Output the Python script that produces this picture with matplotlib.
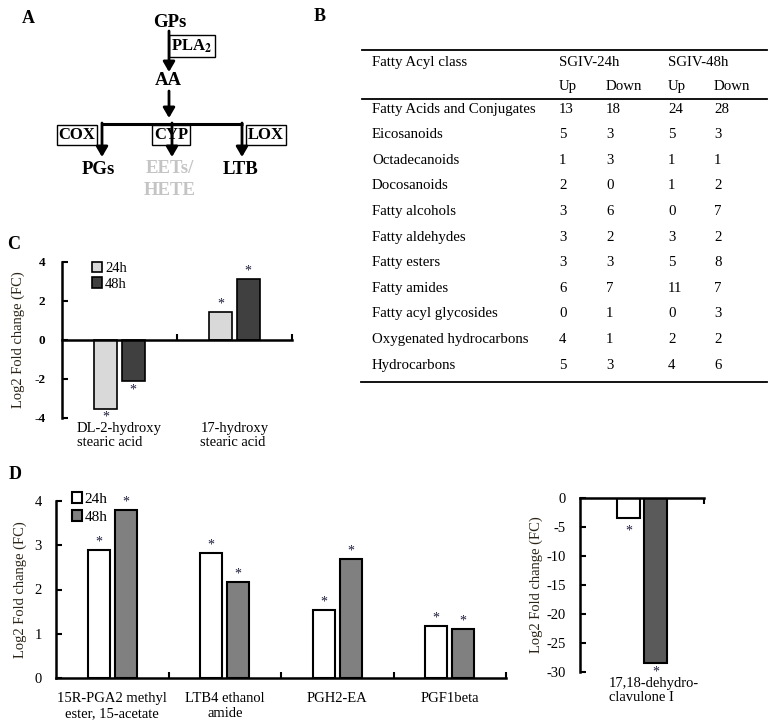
import matplotlib
matplotlib.use("Agg")
import matplotlib.pyplot as plt
from matplotlib.transforms import blended_transform_factory
import numpy as np

plt.rcParams['font.family'] = ['Liberation Serif', 'DejaVu Serif']
plt.rcParams['mathtext.fontset'] = 'stix'

# ---------------- data ----------------
table_classes = ["Fatty Acids and Conjugates", "Eicosanoids", "Octadecanoids", "Docosanoids",
                 "Fatty alcohols", "Fatty aldehydes", "Fatty esters", "Fatty amides",
                 "Fatty acyl glycosides", "Oxygenated hydrocarbons", "Hydrocarbons"]
up_24h = [13, 5, 1, 2, 3, 3, 3, 6, 0, 4, 5]
down_24h = [18, 3, 3, 0, 6, 2, 3, 7, 1, 1, 3]
up_48h = [24, 5, 1, 1, 0, 3, 5, 11, 0, 2, 4]
down_48h = [28, 3, 1, 2, 7, 2, 8, 7, 3, 2, 6]

c_categories = ["DL-2-hydroxy\nstearic acid", "17-hydroxy\nstearic acid"]
c_24h = [-3.55, 1.42]
c_48h = [-2.12, 3.12]
c_ticks = [-4, -2, 0, 2, 4]

d_categories = ["15R-PGA2 methyl\nester, 15-acetate", "LTB4 ethanol\namide", "PGH2-EA", "PGF1beta"]
d_24h = [2.89, 2.82, 1.54, 1.18]
d_48h = [3.79, 2.17, 2.69, 1.10]
d_ticks = [0, 1, 2, 3, 4]

r_categories = ["17,18-dehydro-\nclavulone I"]
r_24h = [-3.4]
r_48h = [-28.5]
r_ticks = [0, -5, -10, -15, -20, -25, -30]

series_labels = ["24h", "48h"]

W, H = 772, 725
fig = plt.figure(figsize=(W / 100, H / 100), dpi=100)

def px_axes(left, top, right, bottom):
    return fig.add_axes([left / W, 1 - bottom / H, (right - left) / W, (bottom - top) / H])

# ---------------- overlay for panels A and B ----------------
ov = fig.add_axes([0, 0, 1, 1])
ov.set_xlim(0, W)
ov.set_ylim(H, 0)
ov.axis('off')

for lab, (x, y) in zip("ABCD", [(28, 18), (320, 16), (14, 244), (15, 474)]):
    ov.text(x, y, lab, fontsize=13, fontweight='bold', ha='center', va='center')

# Panel A pathway
def arrow(x0, y0, x1, y1):
    ov.annotate("", xy=(x1, y1), xytext=(x0, y0),
                arrowprops=dict(arrowstyle='-|>,head_width=0.35,head_length=0.6',
                                color='black', lw=2, shrinkA=0, shrinkB=0))

afs = 13.5
ov.text(170, 22, "GPs", fontsize=afs, fontweight='bold', ha='center', va='center')
arrow(169, 31, 169, 72)
ov.text(192, 46, r"PLA$_\mathbf{2}$", fontsize=12, fontweight='bold', ha='center', va='center',
        bbox=dict(boxstyle='square,pad=0.12', fc='none', ec='black', lw=1))
ov.text(168, 80, "AA", fontsize=afs, fontweight='bold', ha='center', va='center')
arrow(169, 91, 169, 118)
ov.plot([101, 243], [124, 124], color='black', lw=2.2, solid_capstyle='butt')
for x in [102, 172, 242]:
    arrow(x, 123, x, 157)
for txt, x in [("COX", 77), ("CYP", 171), ("LOX", 266)]:
    ov.text(x, 135, txt, fontsize=12, fontweight='bold', ha='center', va='center',
            bbox=dict(boxstyle='square,pad=0.1', fc='none', ec='black', lw=1))
ov.text(98, 169, "PGs", fontsize=afs, fontweight='bold', ha='center', va='center')
ov.text(170, 168, "EETs/", fontsize=afs, fontweight='bold', ha='center', va='center', color='#c4c4c4')
ov.text(170, 190, "HETE", fontsize=afs, fontweight='bold', ha='center', va='center', color='#c4c4c4')
ov.text(241, 169, "LTB", fontsize=afs, fontweight='bold', ha='center', va='center')

# Panel B table
tfs = 10.75
ov.plot([362, 767], [50, 50], color='black', lw=1.3)
ov.plot([362, 767], [99, 99], color='black', lw=1.3)
ov.plot([361, 767], [382, 382], color='black', lw=1.3)
ov.text(372, 62, "Fatty Acyl class", fontsize=tfs, va='center')
ov.text(559, 62, "SGIV-24h", fontsize=tfs, va='center')
ov.text(668, 62, "SGIV-48h", fontsize=tfs, va='center')
col_x = [559, 606, 668, 714]
for x, t in zip(col_x, ["Up", "Down", "Up", "Down"]):
    ov.text(x, 86, t, fontsize=tfs, va='center')
for i, name in enumerate(table_classes):
    y = 109 + i * 25.6
    ov.text(372, y, name, fontsize=tfs, va='center')
    for x, vals in zip(col_x, [up_24h, down_24h, up_48h, down_48h]):
        ov.text(x, y, str(vals[i]), fontsize=tfs, va='center')

star_color = '#1c1c3c'

def style_axes(ax, pad):
    for s in ['top', 'right']:
        ax.spines[s].set_visible(False)
    for s in ['left', 'bottom']:
        ax.spines[s].set_linewidth(1.8)
    ax.tick_params(axis='y', direction='in', length=4, width=1.5, pad=pad)

def stars(ax, xs, vals, neg_off=-11, pos_off=1):
    for x, v in zip(xs, vals):
        off = pos_off if v >= 0 else neg_off
        ax.annotate("*", xy=(x, v), xytext=(0, off), textcoords='offset points',
                    ha='center', va='bottom', fontsize=10, color=star_color, annotation_clip=False)

# ---------------- Panel C ----------------
axc = px_axes(62, 262, 292, 418)
x = np.arange(len(c_categories))
bw, off = 0.2, 0.12
axc.bar(x - off, c_24h, bw, color='#d9d9d9', edgecolor='black', lw=1.2, label=series_labels[0])
axc.bar(x + off, c_48h, bw, color='#404040', edgecolor='black', lw=1.2, label=series_labels[1])
stars(axc, x - off, c_24h, neg_off=-10)
stars(axc, x + off, c_48h)
axc.set_xlim(-0.5, 1.5)
axc.set_ylim(-4, 4)
axc.set_yticks(c_ticks)
axc.set_yticklabels([str(t) for t in c_ticks], fontsize=9.5, fontweight='bold')
style_axes(axc, pad=12)
axc.spines['bottom'].set_position(('data', 0))
axc.set_xticks([0.5, 1.5])
axc.set_xticklabels([])
axc.tick_params(axis='x', direction='in', length=4, width=1.5)
axc.set_ylabel("Log2 Fold change (FC)", fontsize=10.5, color='#2b2416')
axc.yaxis.set_label_coords(-0.16, 0.5)
trc = blended_transform_factory(axc.transData, axc.transAxes)
for xi, lab in zip(x, c_categories):
    axc.text(xi, -0.025, lab, transform=trc, ha='center', va='top', fontsize=10.5,
             linespacing=1.1, multialignment='left')
axc.legend(loc='upper left', bbox_to_anchor=(0.13, 1.0), frameon=False, fontsize=10.5,
           handlelength=0.7, handleheight=0.7, handletextpad=0.2, labelspacing=0.15,
           borderaxespad=0, borderpad=0)

# ---------------- Panel D ----------------
axd = px_axes(56, 501, 506, 678)
x = np.arange(len(d_categories))
axd.bar(x - off, d_24h, 0.195, color='white', edgecolor='black', lw=1.5, label=series_labels[0])
axd.bar(x + off, d_48h, 0.195, color='#808080', edgecolor='black', lw=1.5, label=series_labels[1])
stars(axd, x - off, d_24h)
stars(axd, x + off, d_48h)
axd.set_xlim(-0.5, len(d_categories) - 0.5)
axd.set_ylim(0, 4)
axd.set_yticks(d_ticks)
axd.set_yticklabels([str(t) for t in d_ticks], fontsize=10.5)
style_axes(axd, pad=10)
axd.set_xticks(x)
axd.set_xticklabels(d_categories, fontsize=10.5, linespacing=1.2)
axd.tick_params(axis='x', which='major', length=0, pad=10)
axd.set_xticks(np.arange(len(d_categories)) + 0.5, minor=True)
axd.tick_params(axis='x', which='minor', direction='in', length=4, width=1.5)
axd.set_ylabel("Log2 Fold change (FC)", fontsize=10.5, color='#2b2416')
axd.yaxis.set_label_coords(-0.065, 0.5)
axd.legend(loc='upper left', bbox_to_anchor=(0.035, 1.05), frameon=False, fontsize=11,
           handlelength=0.7, handleheight=0.7, handletextpad=0.15, labelspacing=0.3,
           borderaxespad=0, borderpad=0)

# ---------------- Right panel ----------------
axr = px_axes(580, 498, 704, 672)
x = np.arange(len(r_categories))
axr.bar(x - 0.11, r_24h, 0.19, color='white', edgecolor='black', lw=1.5)
axr.bar(x + 0.11, r_48h, 0.19, color='#5a5a5a', edgecolor='black', lw=1.5)
stars(axr, x - 0.11, r_24h, neg_off=-14)
stars(axr, x + 0.11, r_48h, neg_off=-11)
axr.set_xlim(-0.5, 0.5)
axr.set_ylim(-30, 0)
axr.set_yticks(r_ticks)
axr.set_yticklabels([str(t) for t in r_ticks], fontsize=10.5)
style_axes(axr, pad=10)
axr.spines['bottom'].set_position(('data', 0))
axr.set_xticks([0.5])
axr.set_xticklabels([])
axr.tick_params(axis='x', direction='out', length=4, width=1.5)
axr.set_ylabel("Log2 Fold change (FC)", fontsize=10.5, color='#2b2416')
axr.yaxis.set_label_coords(-0.3, 0.5)
trr = blended_transform_factory(axr.transData, axr.transAxes)
for xi, lab in zip(x, r_categories):
    axr.text(xi - 0.27, -0.03, lab, transform=trr, ha='left', va='top', fontsize=10.5,
             linespacing=1.1)

fig.savefig("out.png", dpi=100)
